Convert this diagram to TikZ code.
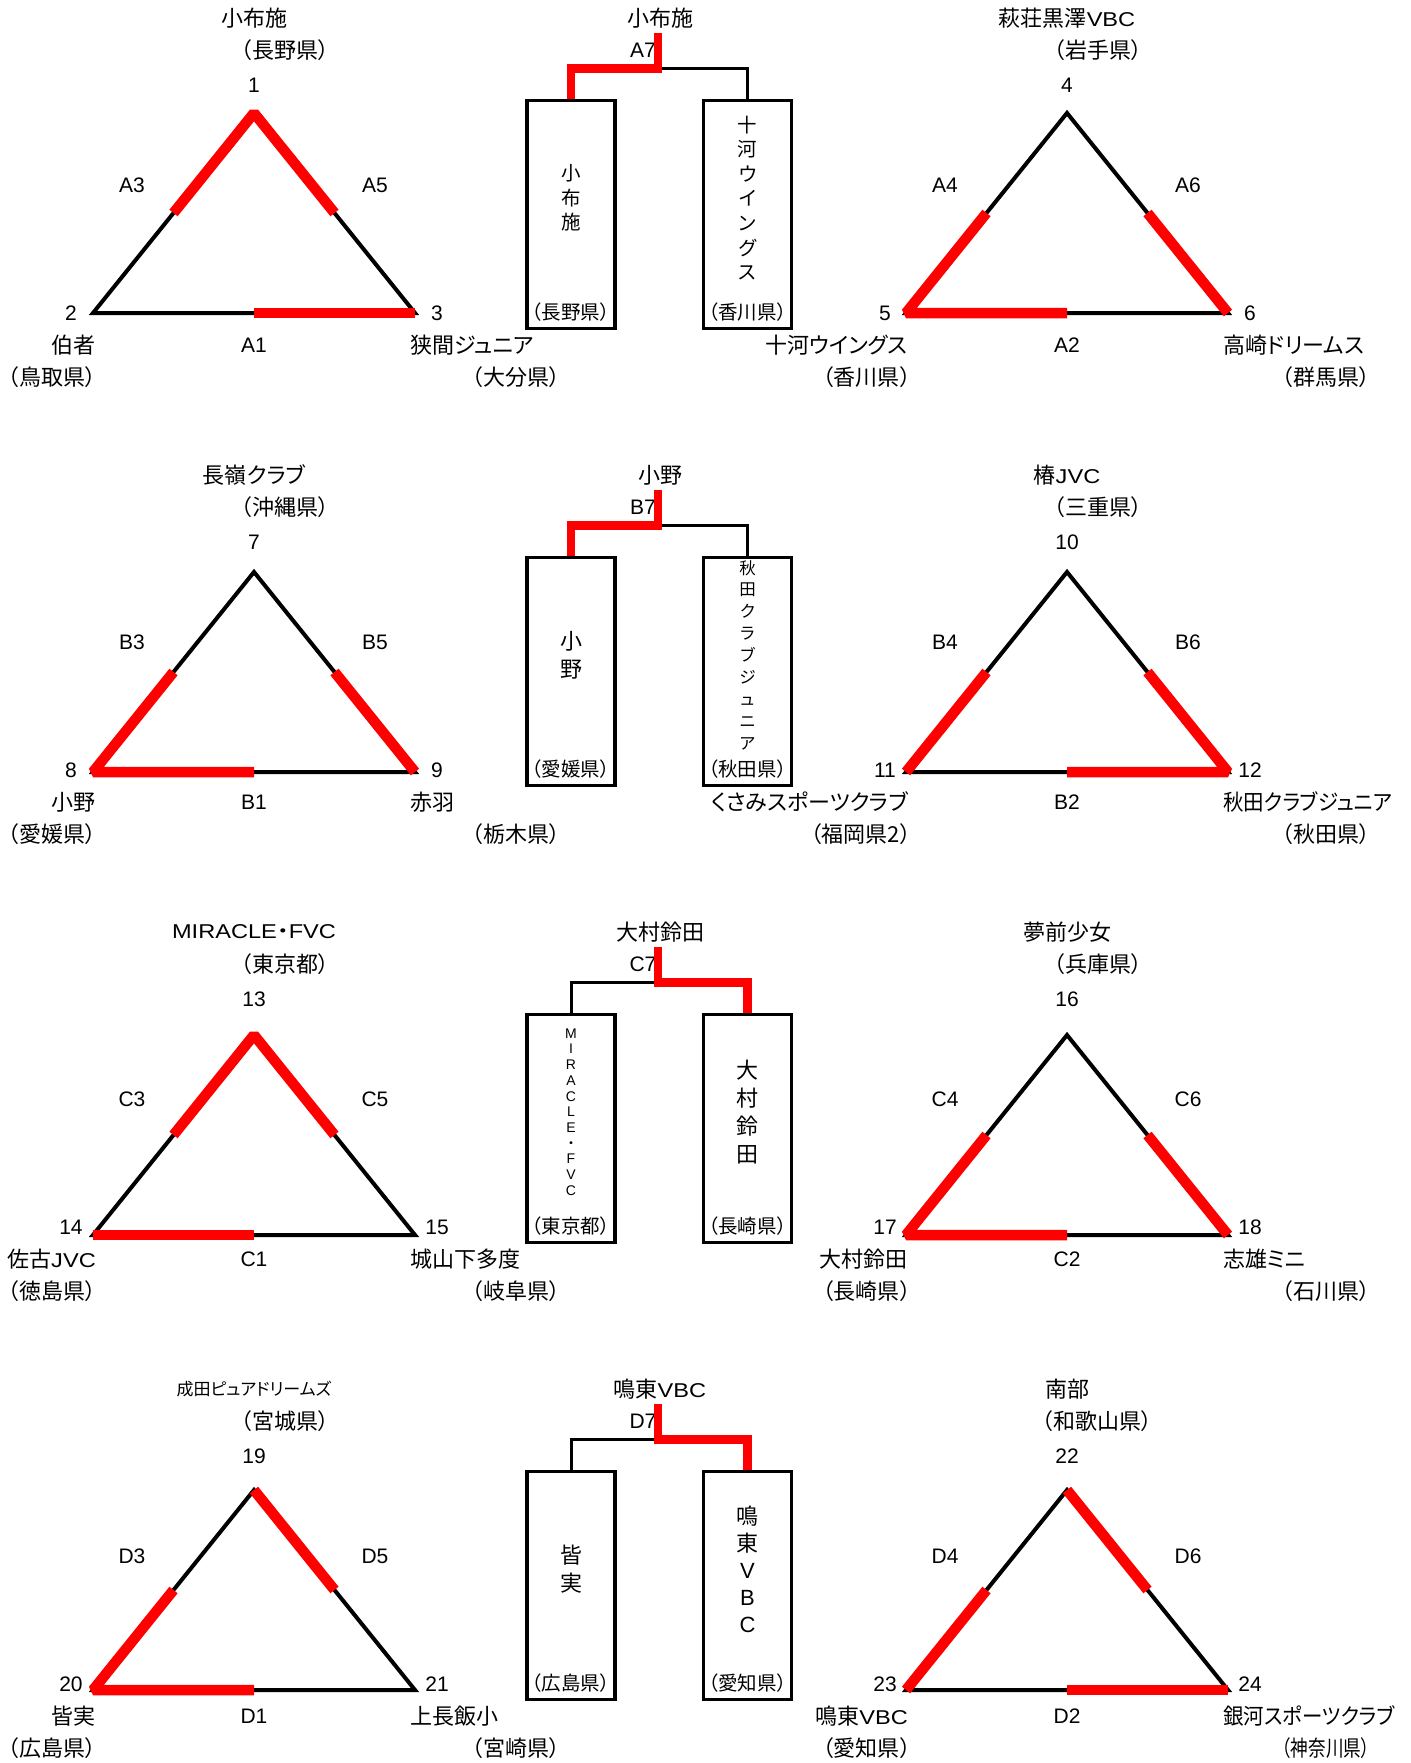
\documentclass[tikz,border=0pt]{standalone}
\usepackage{fontspec}
\usepackage{graphicx}
\setmainfont{Liberation Sans}
\newfontfamily\jp[RawFeature=+palt]{Noto Sans CJK JP}
\usetikzlibrary{calc}
\newcommand\lat[1]{{\rmfamily\fontsize{20}{24}\selectfont\scalebox{1.18}[1]{#1}}}
\newcommand\maketri[3]{%
  \coordinate (#3a) at (#1,#2-200);
  \coordinate (#3l) at (#1-161,#2);
  \coordinate (#3r) at (#1+161,#2);
  \coordinate (#3al) at ($(#3a)!.5!(#3l)$);
  \coordinate (#3ar) at ($(#3a)!.5!(#3r)$);
  \coordinate (#3lr) at ($(#3l)!.5!(#3r)$);
  \draw[edge] (#3a) -- (#3l) -- (#3r) -- cycle;
}
\begin{document}
\begin{tikzpicture}[x=1pt,y=-1pt,
  edge/.style={line width=4pt,line join=miter},
  win/.style={red,line width=10.5pt,line join=bevel,line cap=butt},
  brk/.style={line width=3pt},
  brkwin/.style={red,line width=8.5pt,line join=miter,line cap=butt},
  boxst/.style={draw,line width=3.2pt,minimum width=88pt,minimum height=228.5pt,inner sep=0pt},
  jt/.style={inner sep=0pt,font=\jp\fontsize{22}{26}\selectfont},
  jb/.style={inner sep=0pt,font=\jp\fontsize{19.5}{23}\selectfont},
  lt/.style={inner sep=0pt,font=\fontsize{21}{25}\selectfont},
  vt/.style 2 args={inner sep=0pt,align=center,font=\jp\fontsize{#1}{#2}\selectfont}]
\fill[white] (0,0) rectangle (1410,1763);
\useasboundingbox (0,0) rectangle (1410,1763);

% ================= Row 1 =================
\maketri{254}{313}{L1}
\maketri{1067}{313}{R1}
\draw[win] (L1al) -- (L1a) -- (L1ar);
\draw[win] (L1r) -- (L1lr);
\draw[win] (R1al) -- (R1l) -- (R1lr);
\draw[win] (R1r) -- (R1ar);

\node[jt] (n1t) at (254,18) {小布施};
\node[jt] (n1p) at (285,50) {（長野県）};
\node[lt] (n1) at (254,85) {1};
\node[lt] (eA3) at (132,185) {A3};
\node[lt] (eA5) at (375,185) {A5};
\node[lt] (n2) at (71,313) {2};
\node[lt] (n3) at (437,313) {3};
\node[jt,anchor=east] (n2t) at (96,345) {伯者};
\node[lt] (eA1) at (254,345) {A1};
\node[jt,anchor=west] (n3t) at (410,345) {狭間ジュニア};
\node[jt] (n2p) at (52,377) {（鳥取県）};
\node[jt] (n3p) at (516,377) {（大分県）};

\node[jt] (m1t) at (660,18) {小布施};
\node[lt] (m1l) at (643,50) {A7};
\node[boxst] (b1L) at (571,214.5) {};
\node[boxst] (b1R) at (747.5,214.5) {};
\node[vt={19.5}{24.5}] (v1L) at (571,198) {小\\布\\施};
\node[vt={19.5}{24.6}] (v1R) at (747.5,198) {十\\河\\ウ\\イ\\ン\\グ\\ス};
\node[jb] (p1L) at (571,312) {（長野県）};
\node[jb] (p1R) at (747.5,312) {（香川県）};
\coordinate (j1) at (658,68.5);
\coordinate (k1) at (658,33);
\draw[brk] (b1L.north) |- (j1) -| (b1R.north);
\draw[brkwin] (k1) -- (j1) -| (b1L.north);

\node[jt] (n4t) at (1067,18) {萩荘黒澤\lat{VBC}};
\node[jt] (n4p) at (1098,50) {（岩手県）};
\node[lt] (n4) at (1067,85) {4};
\node[lt] (eA4) at (945,185) {A4};
\node[lt] (eA6) at (1188,185) {A6};
\node[lt] (n5) at (885,313) {5};
\node[lt] (n6) at (1250,313) {6};
\node[jt,anchor=east] (n5t) at (908,345) {十河ウイングス};
\node[lt] (eA2) at (1067,345) {A2};
\node[jt,anchor=west] (n6t) at (1223,345) {高崎ドリームス};
\node[jt,anchor=east] (n5p) at (911,377) {（香川県）};
\node[jt] (n6p) at (1326,377) {（群馬県）};

% ================= Row 2 =================
\maketri{254}{772}{L2}
\maketri{1067}{772}{R2}
\draw[win] (L2al) -- (L2l) -- (L2lr);
\draw[win] (L2r) -- (L2ar);
\draw[win] (R2l) -- (R2al);
\draw[win] (R2ar) -- (R2r) -- (R2lr);

\node[jt] (n7t) at (254,475) {長嶺クラブ};
\node[jt] (n7p) at (285,507) {（沖縄県）};
\node[lt] (n7) at (254,542) {7};
\node[lt] (eB3) at (132,642) {B3};
\node[lt] (eB5) at (375,642) {B5};
\node[lt] (n8) at (71,770) {8};
\node[lt] (n9) at (437,770) {9};
\node[jt,anchor=east] (n8t) at (96,802) {小野};
\node[lt] (eB1) at (254,802) {B1};
\node[jt,anchor=west] (n9t) at (410,802) {赤羽};
\node[jt] (n8p) at (52,834) {（愛媛県）};
\node[jt] (n9p) at (516,834) {（栃木県）};

\node[jt] (m2t) at (660,475) {小野};
\node[lt] (m2l) at (643,507) {B7};
\node[boxst] (b2L) at (571,671.5) {};
\node[boxst] (b2R) at (747.5,671.5) {};
\node[vt={22}{28}] (v2L) at (571,655) {小\\野};
\node[vt={16.5}{21.9}] (v2R) at (747.5,655) {秋\\田\\ク\\ラ\\ブ\\ジ\\ュ\\ニ\\ア};
\node[jb] (p2L) at (571,769) {（愛媛県）};
\node[jb] (p2R) at (747.5,769) {（秋田県）};
\coordinate (j2) at (658,525.5);
\coordinate (k2) at (658,490);
\draw[brk] (b2L.north) |- (j2) -| (b2R.north);
\draw[brkwin] (k2) -- (j2) -| (b2L.north);

\node[jt] (n10t) at (1067,475) {椿\lat{JVC}};
\node[jt] (n10p) at (1098,507) {（三重県）};
\node[lt] (n10) at (1067,542) {10};
\node[lt] (eB4) at (945,642) {B4};
\node[lt] (eB6) at (1188,642) {B6};
\node[lt] (n11) at (885,770) {11};
\node[lt] (n12) at (1250,770) {12};
\node[jt,anchor=east] (n11t) at (908,802) {くさみスポーツクラブ};
\node[lt] (eB2) at (1067,802) {B2};
\node[jt,anchor=west] (n12t) at (1223,802) {\scalebox{0.93}[1]{秋田クラブジュニア}};
\node[jt,anchor=east] (n11p) at (911,834) {（福岡県2）};
\node[jt] (n12p) at (1326,834) {（秋田県）};

% ================= Row 3 =================
\maketri{254}{1235}{L3}
\maketri{1067}{1235}{R3}
\draw[win] (L3al) -- (L3a) -- (L3ar);
\draw[win] (L3l) -- (L3lr);
\draw[win] (R3al) -- (R3l) -- (R3lr);
\draw[win] (R3r) -- (R3ar);

\node[jt] (n13t) at (254,932) {\lat{MIRACLE{\jp ・}FVC}};
\node[jt] (n13p) at (285,964) {（東京都）};
\node[lt] (n13) at (254,999) {13};
\node[lt] (eC3) at (132,1099) {C3};
\node[lt] (eC5) at (375,1099) {C5};
\node[lt] (n14) at (71,1227) {14};
\node[lt] (n15) at (437,1227) {15};
\node[jt,anchor=east] (n14t) at (96,1259) {佐古\lat{JVC}};
\node[lt] (eC1) at (254,1259) {C1};
\node[jt,anchor=west] (n15t) at (410,1259) {城山下多度};
\node[jt] (n14p) at (52,1291) {（徳島県）};
\node[jt] (n15p) at (516,1291) {（岐阜県）};

\node[jt] (m3t) at (660,932) {大村鈴田};
\node[lt] (m3l) at (643,964) {C7};
\node[boxst] (b3L) at (571,1128.5) {};
\node[boxst] (b3R) at (747.5,1128.5) {};
\node[vt={14}{15.7},font=\fontsize{14}{15.7}\selectfont] (v3L) at (571,1112) {M\\I\\R\\A\\C\\L\\E\\{\jp ・}\\F\\V\\C};
\node[vt={22}{27.7}] (v3R) at (747.5,1112) {大\\村\\鈴\\田};
\node[jb] (p3L) at (571,1226) {（東京都）};
\node[jb] (p3R) at (747.5,1226) {（長崎県）};
\coordinate (j3) at (658,982.5);
\coordinate (k3) at (658,947);
\draw[brk] (b3L.north) |- (j3) -| (b3R.north);
\draw[brkwin] (k3) -- (j3) -| (b3R.north);

\node[jt] (n16t) at (1067,932) {夢前少女};
\node[jt] (n16p) at (1098,964) {（兵庫県）};
\node[lt] (n16) at (1067,999) {16};
\node[lt] (eC4) at (945,1099) {C4};
\node[lt] (eC6) at (1188,1099) {C6};
\node[lt] (n17) at (885,1227) {17};
\node[lt] (n18) at (1250,1227) {18};
\node[jt,anchor=east] (n17t) at (908,1259) {大村鈴田};
\node[lt] (eC2) at (1067,1259) {C2};
\node[jt,anchor=west] (n18t) at (1223,1259) {志雄ミニ};
\node[jt,anchor=east] (n17p) at (911,1291) {（長崎県）};
\node[jt] (n18p) at (1326,1291) {（石川県）};

% ================= Row 4 =================
\maketri{254}{1690}{L4}
\maketri{1067}{1690}{R4}
\draw[win] (L4al) -- (L4l) -- (L4lr);
\draw[win] (L4a) -- (L4ar);
\draw[win] (R4l) -- (R4al);
\draw[win] (R4a) -- (R4ar);
\draw[win] (R4r) -- (R4lr);

\node[jt,font=\jp\fontsize{17}{20}\selectfont] (n19t) at (254,1389) {成田ピュアドリームズ};
\node[jt] (n19p) at (285,1421) {（宮城県）};
\node[lt] (n19) at (254,1456) {19};
\node[lt] (eD3) at (132,1556) {D3};
\node[lt] (eD5) at (375,1556) {D5};
\node[lt] (n20) at (71,1684) {20};
\node[lt] (n21) at (437,1684) {21};
\node[jt,anchor=east] (n20t) at (96,1716) {皆実};
\node[lt] (eD1) at (254,1716) {D1};
\node[jt,anchor=west] (n21t) at (410,1716) {上長飯小};
\node[jt] (n20p) at (52,1748) {（広島県）};
\node[jt] (n21p) at (516,1748) {（宮崎県）};

\node[jt] (m4t) at (660,1389) {鳴東\lat{VBC}};
\node[lt] (m4l) at (643,1421) {D7};
\node[boxst] (b4L) at (571,1585.5) {};
\node[boxst] (b4R) at (747.5,1585.5) {};
\node[vt={22}{28}] (v4L) at (571,1569) {皆\\実};
\node[vt={22}{27}] (v4R) at (747.5,1569) {鳴\\東\\{\rmfamily V}\\{\rmfamily B}\\{\rmfamily C}};
\node[jb] (p4L) at (571,1683) {（広島県）};
\node[jb] (p4R) at (747.5,1683) {（愛知県）};
\coordinate (j4) at (658,1439.5);
\coordinate (k4) at (658,1404);
\draw[brk] (b4L.north) |- (j4) -| (b4R.north);
\draw[brkwin] (k4) -- (j4) -| (b4R.north);

\node[jt] (n22t) at (1067,1389) {南部};
\node[jt] (n22p) at (1097,1421) {（和歌山県）};
\node[lt] (n22) at (1067,1456) {22};
\node[lt] (eD4) at (945,1556) {D4};
\node[lt] (eD6) at (1188,1556) {D6};
\node[lt] (n23) at (885,1684) {23};
\node[lt] (n24) at (1250,1684) {24};
\node[jt,anchor=east] (n23t) at (908,1716) {鳴東\lat{VBC}};
\node[lt] (eD2) at (1067,1716) {D2};
\node[jt,anchor=west] (n24t) at (1223,1716) {\scalebox{0.93}[1]{銀河スポーツクラブ}};
\node[jt,anchor=east] (n23p) at (911,1748) {（愛知県）};
\node[jt] (n24p) at (1326,1748) {\scalebox{0.8}[1]{（神奈川県）}};
\end{tikzpicture}
\end{document}
